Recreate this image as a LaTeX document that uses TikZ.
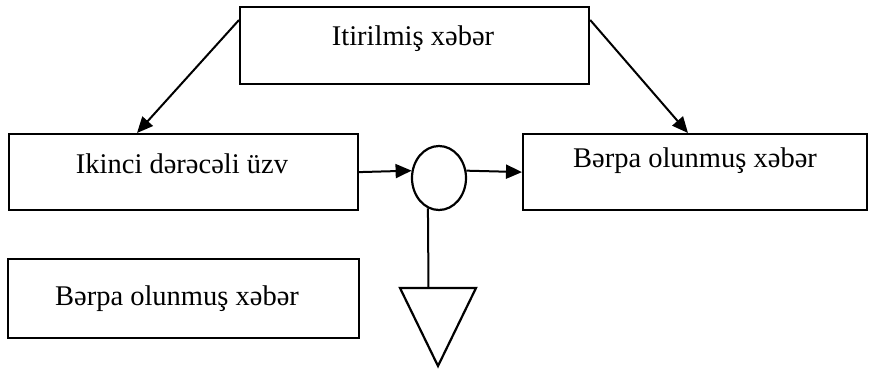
\documentclass[tikz,border=0pt]{standalone}
\usepackage{fontspec}
\setmainfont{Liberation Serif}
\usetikzlibrary{arrows.meta,calc,shapes.geometric}
\begin{document}
\begin{tikzpicture}[x=1pt,y=-1pt,
  box/.style={draw=black,line width=2.2pt,inner sep=0pt,anchor=north west},
  lbl/.style={anchor=base,inner sep=0pt,font=\fontsize{28.5}{30}\selectfont},
  conn/.style={draw=black,line width=2pt},
  arr/.style={conn,-{Triangle[length=16pt,width=14pt]}}]
\useasboundingbox (0,0) rectangle (873,370);
% boxes
\node[box,minimum width=349pt,minimum height=77pt] (top) at (239,6) {};
\node[box,minimum width=349pt,minimum height=76pt] (ikinci) at (8,133) {};
\node[box,minimum width=344pt,minimum height=76pt] (berpa) at (522,133) {};
\node[box,minimum width=351pt,minimum height=79pt] (berpa2) at (7,258) {};
% texts
\node[lbl] (ttop) at (413,45) {Itirilmiş xəbər};
\node[lbl] (tik) at (182,173) {Ikinci dərəcəli üzv};
\node[lbl] (tber) at (695,167) {Bərpa olunmuş xəbər};
\node[lbl] (tber2) at (177,305) {Bərpa olunmuş xəbər};
% summing circle
\node[draw=black,line width=2.2pt,ellipse,minimum width=54pt,minimum height=64pt,inner sep=0pt] (circ) at (439,178) {};
% ground triangle
\coordinate (tritop) at (428.5,288);
\draw[conn,line width=2.2pt,line join=miter] (400,288) -- (476,288) -- (438,366) -- cycle;
% connectors
\draw[arr] ($(top.north west)+(0,14)$) -- ($(ikinci.north west)+(129,0)$);
\draw[arr] ($(top.north east)+(0,14)$) -- ($(berpa.north west)+(166,0)$);
\draw[arr] (ikinci.east) -- (circ.165);
\draw[arr] (circ.15) -- (berpa.west);
\draw[conn] (circ.250) -- (tritop);
\end{tikzpicture}
\end{document}
